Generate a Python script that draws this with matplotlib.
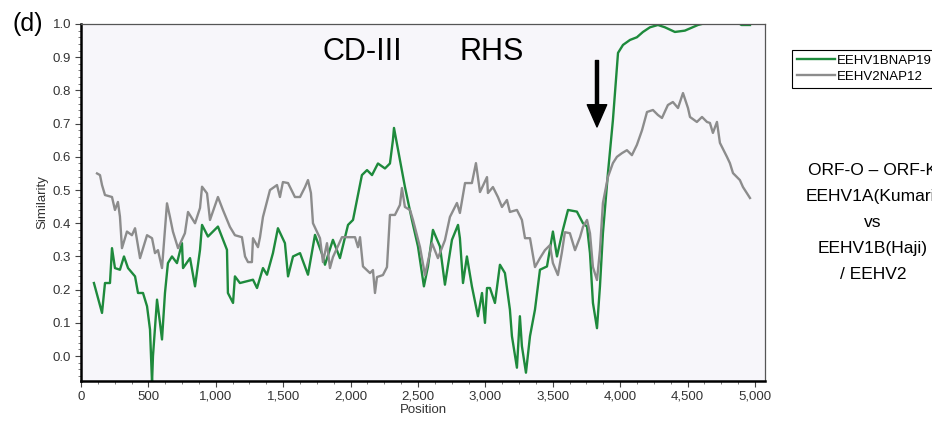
import matplotlib.pyplot as plt
from matplotlib.ticker import FuncFormatter, MultipleLocator

plt.rcParams['font.family'] = ['Liberation Sans', 'DejaVu Sans']

# EEHV1BNAP19 (green)
pos_green = [96, 156, 178, 215, 230, 252, 289, 319, 349, 401, 423, 460, 490, 512, 527, 534,
             564, 586, 601, 623, 645, 675, 712, 749, 757, 809, 846, 883, 898, 942, 1016, 1083,
             1090, 1128, 1142, 1179, 1276, 1306, 1350, 1380, 1424, 1461, 1513, 1536, 1573, 1625,
             1684, 1736, 1795, 1810, 1869, 1921, 1981, 2018, 2084, 2122, 2159, 2203, 2255, 2292,
             2314, 2322, 2403, 2455, 2500, 2544, 2574, 2611, 2663, 2700, 2752, 2797, 2811, 2834,
             2863, 2900, 2945, 2975, 2997, 3012, 3034, 3071, 3108, 3145, 3182, 3197, 3234, 3256,
             3271, 3301, 3331, 3368, 3405, 3457, 3501, 3531, 3575, 3613, 3679, 3724, 3754, 3776,
             3798, 3828, 3850, 3872, 3909, 3946, 3984, 4021, 4073, 4124, 4169, 4221, 4280, 4332,
             4406, 4480, 4577, 4700, 4850, 4900, 4963]
sim_green = [0.22, 0.13, 0.22, 0.22, 0.325, 0.265, 0.26, 0.30, 0.265, 0.24, 0.19, 0.19, 0.15, 0.08, -0.08, 0.0,
             0.17, 0.10, 0.05, 0.19, 0.28, 0.30, 0.28, 0.34, 0.265, 0.295, 0.21, 0.32, 0.395, 0.36, 0.39, 0.32,
             0.19, 0.16, 0.24, 0.22, 0.23, 0.205, 0.265, 0.245, 0.31, 0.385, 0.34, 0.24, 0.30, 0.31,
             0.245, 0.365, 0.30, 0.275, 0.35, 0.295, 0.395, 0.41, 0.545, 0.56, 0.545, 0.58, 0.565, 0.58,
             0.65, 0.687, 0.51, 0.41, 0.33, 0.21, 0.27, 0.38, 0.33, 0.215, 0.35, 0.395, 0.355, 0.22,
             0.30, 0.21, 0.12, 0.19, 0.10, 0.205, 0.205, 0.16, 0.275, 0.25, 0.14, 0.06, -0.035, 0.12,
             0.03, -0.05, 0.06, 0.14, 0.26, 0.27, 0.375, 0.30, 0.38, 0.44, 0.435, 0.40, 0.39, 0.31,
             0.16, 0.084, 0.21, 0.37, 0.55, 0.71, 0.913, 0.937, 0.952, 0.96, 0.976, 0.99, 0.997, 0.99,
             0.976, 0.98, 0.997, 1.01, 1.01, 0.997, 0.997]

# EEHV2NAP12 (gray)
pos_gray = [119, 141, 156, 178, 230, 252, 274, 289, 304, 341, 378, 401, 438, 490, 527, 549, 571,
            601, 638, 660, 682, 720, 771, 794, 846, 883, 898, 935, 957, 1016, 1053, 1105, 1142,
            1194, 1217, 1239, 1268, 1276, 1313, 1328, 1350, 1402, 1454, 1476, 1498, 1536, 1587,
            1625, 1662, 1684, 1706, 1721, 1773, 1795, 1825, 1847, 1869, 1936, 2033, 2055, 2070,
            2092, 2144, 2166, 2181, 2196, 2240, 2270, 2292, 2329, 2366, 2381, 2403, 2441, 2463,
            2515, 2552, 2604, 2648, 2700, 2737, 2752, 2789, 2811, 2849, 2900, 2930, 2960, 3012,
            3019, 3056, 3093, 3123, 3160, 3182, 3234, 3271, 3294, 3331, 3368, 3405, 3442, 3479,
            3501, 3538, 3568, 3590, 3627, 3665, 3702, 3724, 3754, 3776, 3798, 3828, 3850, 3872,
            3909, 3946, 3976, 4013, 4050, 4087, 4124, 4162, 4199, 4243, 4280, 4310, 4354, 4391,
            4429, 4466, 4503, 4518, 4569, 4607, 4644, 4666, 4688, 4718, 4740, 4792, 4814, 4837,
            4888, 4911, 4963]
sim_gray = [0.55, 0.545, 0.515, 0.485, 0.479, 0.44, 0.464, 0.42, 0.325, 0.375, 0.364, 0.385, 0.295, 0.364, 0.355, 0.31, 0.319,
            0.265, 0.46, 0.419, 0.375, 0.325, 0.37, 0.434, 0.40, 0.446, 0.51, 0.49, 0.41, 0.479, 0.44, 0.389, 0.364,
            0.358, 0.30, 0.283, 0.283, 0.355, 0.328, 0.358, 0.419, 0.50, 0.515, 0.479, 0.524, 0.521, 0.479,
            0.479, 0.509, 0.53, 0.491, 0.40, 0.355, 0.283, 0.34, 0.265, 0.298, 0.358, 0.358, 0.328, 0.358,
            0.27, 0.25, 0.259, 0.19, 0.238, 0.244, 0.268, 0.425, 0.425, 0.455, 0.506, 0.449, 0.44, 0.41,
            0.328, 0.244, 0.34, 0.295, 0.349, 0.419, 0.431, 0.461, 0.431, 0.521, 0.521, 0.581, 0.494, 0.539,
            0.491, 0.509, 0.479, 0.449, 0.47, 0.434, 0.44, 0.41, 0.355, 0.355, 0.268, 0.295, 0.319, 0.334,
            0.28, 0.244, 0.313, 0.373, 0.37, 0.319, 0.358, 0.389, 0.41, 0.37, 0.268, 0.229, 0.319, 0.461,
            0.539, 0.581, 0.60, 0.611, 0.62, 0.605, 0.636, 0.68, 0.735, 0.741, 0.726, 0.717, 0.756, 0.765,
            0.747, 0.792, 0.747, 0.72, 0.705, 0.72, 0.705, 0.702, 0.672, 0.705, 0.642, 0.60, 0.581, 0.551,
            0.53, 0.509, 0.476]

labels = ['EEHV1BNAP19', 'EEHV2NAP12']
side_text = ['ORF-O \u2013 ORF-K', 'EEHV1A(Kumari)', 'vs', 'EEHV1B(Haji)', '/ EEHV2']

fig = plt.figure(figsize=(9.32, 4.23), dpi=100)
ax = fig.add_axes([0.0869, 0.0993, 0.734, 0.844])
ax.set_facecolor('#f7f6fa')

ax.plot(pos_green, sim_green, color='#1e8a3c', lw=1.7, label=labels[0])
ax.plot(pos_gray, sim_gray, color='#8c8c8c', lw=1.7, label=labels[1])

ax.set_xlim(0, 5075)
ax.set_ylim(-0.075, 1.0)
ax.xaxis.set_major_locator(MultipleLocator(500))
ax.xaxis.set_minor_locator(MultipleLocator(125))
ax.yaxis.set_major_locator(MultipleLocator(0.1))
ax.yaxis.set_minor_locator(MultipleLocator(0.02))
ax.xaxis.set_major_formatter(FuncFormatter(lambda v, p: '{:,.0f}'.format(v)))
ax.yaxis.set_major_formatter(FuncFormatter(lambda v, p: '{:.1f}'.format(v)))
ax.tick_params(which='major', length=4, width=0.8, color='#444444', labelsize=9.5,
               labelcolor='#333333', pad=3)
ax.tick_params(which='minor', length=2, width=0.6, color='#666666')

for s in ['left', 'bottom']:
    ax.spines[s].set_linewidth(1.8)
    ax.spines[s].set_color('black')
for s in ['top', 'right']:
    ax.spines[s].set_linewidth(0.9)
    ax.spines[s].set_color('#555555')

ax.set_xlabel('Position', fontsize=9.5, color='#333333', labelpad=1)
ax.set_ylabel('Similarity', fontsize=9.5, color='#333333', labelpad=3)

ax.text(2090, 0.915, 'CD-III', fontsize=22, ha='center', va='center')
ax.text(3050, 0.915, 'RHS', fontsize=22, ha='center', va='center')
ax.annotate('', xy=(3828, 0.69), xytext=(3828, 0.89),
            arrowprops=dict(width=2.2, headwidth=14, headlength=16, color='black', shrink=0))

fig.text(28 / 932, 1 - 24 / 423, '(d)', fontsize=18, ha='center', va='center')

leg = fig.legend(loc='upper left', bbox_to_anchor=(792 / 932, 1 - 50 / 423), fontsize=9.5,
                 handlelength=2.9, handletextpad=0.15, borderpad=0.35, labelspacing=0.3,
                 borderaxespad=0, fancybox=False, framealpha=1)
leg.get_frame().set_edgecolor('black')
leg.get_frame().set_linewidth(0.8)

ys = [170, 196, 222, 248, 274]
for t, y in zip(side_text, ys):
    fig.text(873 / 932, 1 - y / 423, t, fontsize=12.5, ha='center', va='center')

fig.savefig('out.png', dpi=100)
